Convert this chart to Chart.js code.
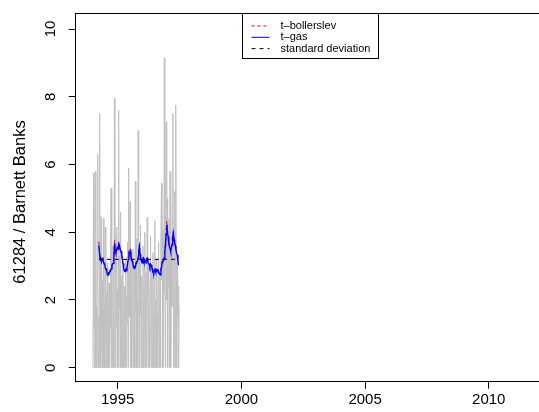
<!DOCTYPE html>
<html>
<head>
<meta charset="utf-8">
<script src="https://cdn.jsdelivr.net/npm/chart.js@4"></script>
<style>
  html, body { margin: 0; padding: 0; background: #fff; overflow: hidden; }
  #chart { display: block; }
</style>
</head>
<body>
<canvas id="chart" width="539" height="412"></canvas>
<script>
// ===== data =====
// weekly absolute returns, starting 1994.0
const absRetStart = 1994.0;
const absRet = [
  0.0, 5.75, 1.2, 0.0, 2.1, 5.8, 0.0, 1.8, 0.0, 2.9, 6.3, 0.0, 1.5, 0.0,
  7.5, 2.4, 0.0, 4.45, 1.1, 0.0, 2.6, 0.0, 4.4, 0.0, 1.9, 0.0, 4.15, 1.3,
  0.0, 2.2, 0.0, 3.1, 0.0, 1.7, 2.5, 0.0, 1.2, 3.4, 5.3, 0.0, 2.0, 0.0,
  3.6, 1.5, 0.0, 7.95, 2.8, 0.0, 3.9, 1.2, 4.15, 0.0, 2.3, 0.0, 7.6, 1.8,
  3.3, 0.0, 4.6, 1.4, 0.0, 2.7, 0.0, 3.0, 0.0, 1.6, 2.4, 0.0, 1.9, 3.2,
  0.0, 2.1, 1.3, 3.7, 0.0, 5.9, 1.5, 2.6, 4.9, 0.0, 1.8, 3.5, 0.0, 2.2,
  3.5, 0.0, 1.4, 2.9, 0.0, 5.5, 1.7, 3.8, 0.0, 2.0, 0.0, 7.0, 2.5, 0.0,
  3.3, 1.6, 4.2, 0.0, 2.7, 1.2, 0.0, 3.6, 1.9, 0.0, 2.4, 4.0, 0.0, 2.8,
  0.0, 1.7, 4.45, 2.2, 0.0, 3.1, 1.3, 0.0, 2.6, 3.9, 0.0, 1.8, 2.9, 0.0,
  3.4, 1.5, 0.0, 2.3, 4.35, 0.0, 2.0, 0.0, 3.2, 1.6, 0.0, 2.5, 3.7, 0.0,
  1.9, 2.8, 0.0, 3.5, 5.45, 2.6, 4.1, 0.0, 3.8, 2.2, 9.15, 3.4, 0.0, 4.6,
  7.25, 2.0, 5.0, 0.0, 3.6, 2.4, 4.4, 0.0, 5.8, 2.9, 0.0, 3.9, 1.8, 4.8,
  7.5, 2.3, 0.0, 3.3, 5.2, 0.0, 7.75, 2.7, 0.0, 3.1, 1.6, 2.4, 0.0, 1.8
];

// filtered volatility, one value about every 10 days
const volStart = 1994.24;
const volStep = 0.0264;
const tGas = [
  3.62, 3.35, 3.18, 3.20, 3.13, 3.22, 3.23, 3.12, 3.08, 3.04, 2.93, 2.92,
  2.84, 2.76, 2.74, 2.80, 2.79, 2.86, 2.90, 2.92, 3.00, 3.07, 3.08, 3.30,
  3.67, 3.45, 3.38, 3.48, 3.52, 3.50, 3.62, 3.52, 3.55, 3.46, 3.43, 3.33,
  3.18, 3.08, 2.93, 2.86, 2.84, 2.89, 2.87, 2.95, 3.08, 3.20, 3.38, 3.36,
  3.43, 3.28, 3.18, 3.15, 3.08, 2.97, 2.93, 2.99, 2.98, 3.09, 3.13, 3.15,
  3.23, 3.44, 3.57, 3.35, 3.28, 3.16, 3.10, 3.19, 3.23, 3.14, 3.18, 3.12,
  3.10, 3.20, 3.23, 3.11, 3.08, 3.05, 2.98, 3.06, 3.03, 2.95, 2.93, 2.82,
  2.79, 2.88, 2.90, 2.83, 2.84, 2.90, 2.88, 2.80, 2.81, 2.76, 2.74, 2.90,
  2.98, 3.12, 3.18, 3.17, 3.23, 3.45, 3.62, 3.95, 4.21, 3.98, 3.87, 3.66,
  3.57, 3.52, 3.43, 3.55, 3.62, 3.85, 3.97, 3.78, 3.67, 3.60, 3.48, 3.38,
  3.33, 3.15, 3.03
];
const tBollerslev = [
  3.72, 3.40, 3.20, 3.22, 3.15, 3.24, 3.26, 3.12, 3.06, 3.00, 2.92, 2.88,
  2.82, 2.74, 2.72, 2.78, 2.80, 2.88, 2.93, 2.97, 3.04, 3.10, 3.12, 3.36,
  3.76, 3.50, 3.42, 3.52, 3.58, 3.56, 3.70, 3.56, 3.60, 3.50, 3.45, 3.32,
  3.16, 3.04, 2.90, 2.84, 2.86, 2.90, 2.92, 3.00, 3.12, 3.26, 3.46, 3.42,
  3.50, 3.32, 3.20, 3.14, 3.06, 2.96, 2.95, 3.00, 3.02, 3.12, 3.17, 3.20,
  3.27, 3.50, 3.65, 3.38, 3.30, 3.16, 3.12, 3.22, 3.27, 3.16, 3.20, 3.13,
  3.12, 3.23, 3.27, 3.12, 3.10, 3.06, 3.00, 3.08, 3.06, 2.96, 2.95, 2.83,
  2.80, 2.90, 2.93, 2.85, 2.86, 2.92, 2.90, 2.82, 2.82, 2.77, 2.76, 2.94,
  3.02, 3.17, 3.22, 3.20, 3.28, 3.52, 3.70, 4.06, 4.33, 4.05, 3.95, 3.70,
  3.62, 3.55, 3.48, 3.60, 3.70, 3.95, 4.07, 3.85, 3.75, 3.64, 3.52, 3.41,
  3.36, 3.16, 3.05
];
const stdDev = 3.2;

const xTicks = [1995, 2000, 2005, 2010];
const yTicks = [0, 2, 4, 6, 8, 10];
const yTitle = "61284 / Barnett Banks";

// ===== build =====
const FONT = '"Liberation Sans", Arial, Helvetica, sans-serif';
const absPts = absRet.map((v, i) => ({ x: absRetStart + i / 52, y: v }));
const volX = tGas.map((_, i) => volStart + i * volStep);
const gasPts = tGas.map((v, i) => ({ x: volX[i], y: v }));
const bolPts = tBollerslev.map((v, i) => ({ x: volX[i], y: v }));
const sdPts = [{ x: volX[0], y: stdDev }, { x: volX[volX.length - 1], y: stdDev }];

// frame, rotated y labels, title and boxed legend (R style)
const rStyle = {
  id: "rStyle",
  afterDraw(chart) {
    const { ctx, chartArea: a, scales: { y } } = chart;
    ctx.save();
    ctx.strokeStyle = "#000";
    ctx.lineWidth = 1;
    ctx.beginPath();
    ctx.moveTo(a.left, Math.round(a.top) + 0.5);
    ctx.lineTo(chart.width, Math.round(a.top) + 0.5);
    ctx.stroke();

    ctx.fillStyle = "#000";
    ctx.textAlign = "center";
    ctx.textBaseline = "middle";
    ctx.font = "15px " + FONT;
    yTicks.forEach(v => {
      ctx.save();
      ctx.translate(a.left - 25, y.getPixelForValue(v));
      ctx.rotate(-Math.PI / 2);
      ctx.fillText(String(v), 0, 0);
      ctx.restore();
    });

    ctx.font = "16.5px " + FONT;
    ctx.save();
    ctx.translate(20, 202);
    ctx.rotate(-Math.PI / 2);
    ctx.fillText(yTitle, 0, 0);
    ctx.restore();

    // legend
    const lx = 242.5, ly = Math.round(a.top) + 0.5, lw = 136, lh = 45;
    ctx.fillStyle = "#fff";
    ctx.fillRect(lx, ly, lw, lh);
    ctx.strokeRect(lx, ly, lw, lh);
    ctx.font = "11px " + FONT;
    ctx.textAlign = "left";
    const items = chart.data.datasets.filter(d => d.inLegend);
    items.forEach((d, i) => {
      const ry = ly + 12.5 + i * 11.3;
      ctx.strokeStyle = d.borderColor;
      ctx.setLineDash(d.borderDash || []);
      ctx.beginPath();
      ctx.moveTo(lx + 9, ry);
      ctx.lineTo(lx + 27, ry);
      ctx.stroke();
      ctx.setLineDash([]);
      ctx.fillStyle = "#000";
      ctx.fillText(d.label, lx + 38, ry);
    });
    ctx.restore();
  }
};

new Chart(document.getElementById("chart"), {
  type: "line",
  data: {
    datasets: [
      { label: "returns", data: absPts, borderColor: "#c0c0c0", borderWidth: 1, order: 4 },
      { label: "t\u2013bollerslev", data: bolPts, borderColor: "#ff0000", borderWidth: 1, borderDash: [3, 3], order: 3, inLegend: true },
      { label: "t\u2013gas", data: gasPts, borderColor: "#0000ff", borderWidth: 1.4, order: 2, inLegend: true },
      { label: "standard deviation", data: sdPts, borderColor: "#000", borderWidth: 1, borderDash: [4, 4], order: 1, inLegend: true }
    ]
  },
  options: {
    responsive: false,
    animation: false,
    devicePixelRatio: 1,
    elements: { point: { radius: 0 }, line: { tension: 0 } },
    layout: { padding: { top: 13.3, right: 0, left: 0, bottom: 0 } },
    plugins: { legend: { display: false }, tooltip: { enabled: false } },
    scales: {
      x: {
        type: "linear",
        min: 1993.302,
        max: 2012.03,
        afterBuildTicks: s => { s.ticks = xTicks.map(v => ({ value: v })); },
        afterFit: s => { s.height = 30.3; },
        ticks: { color: "#000", font: { family: FONT, size: 15 }, padding: 2, callback: v => String(v), maxRotation: 0 },
        grid: { drawOnChartArea: false, drawTicks: true, tickLength: 7, color: "#000" },
        border: { display: true, color: "#000", width: 1 }
      },
      y: {
        type: "linear",
        min: -0.413,
        max: 10.464,
        afterBuildTicks: s => { s.ticks = yTicks.map(v => ({ value: v })); },
        afterFit: s => { s.width = 75.7; },
        ticks: { display: false },
        grid: { drawOnChartArea: false, drawTicks: true, tickLength: 7, color: "#000" },
        border: { display: true, color: "#000", width: 1 }
      }
    }
  },
  plugins: [rStyle]
});
</script>
</body>
</html>
